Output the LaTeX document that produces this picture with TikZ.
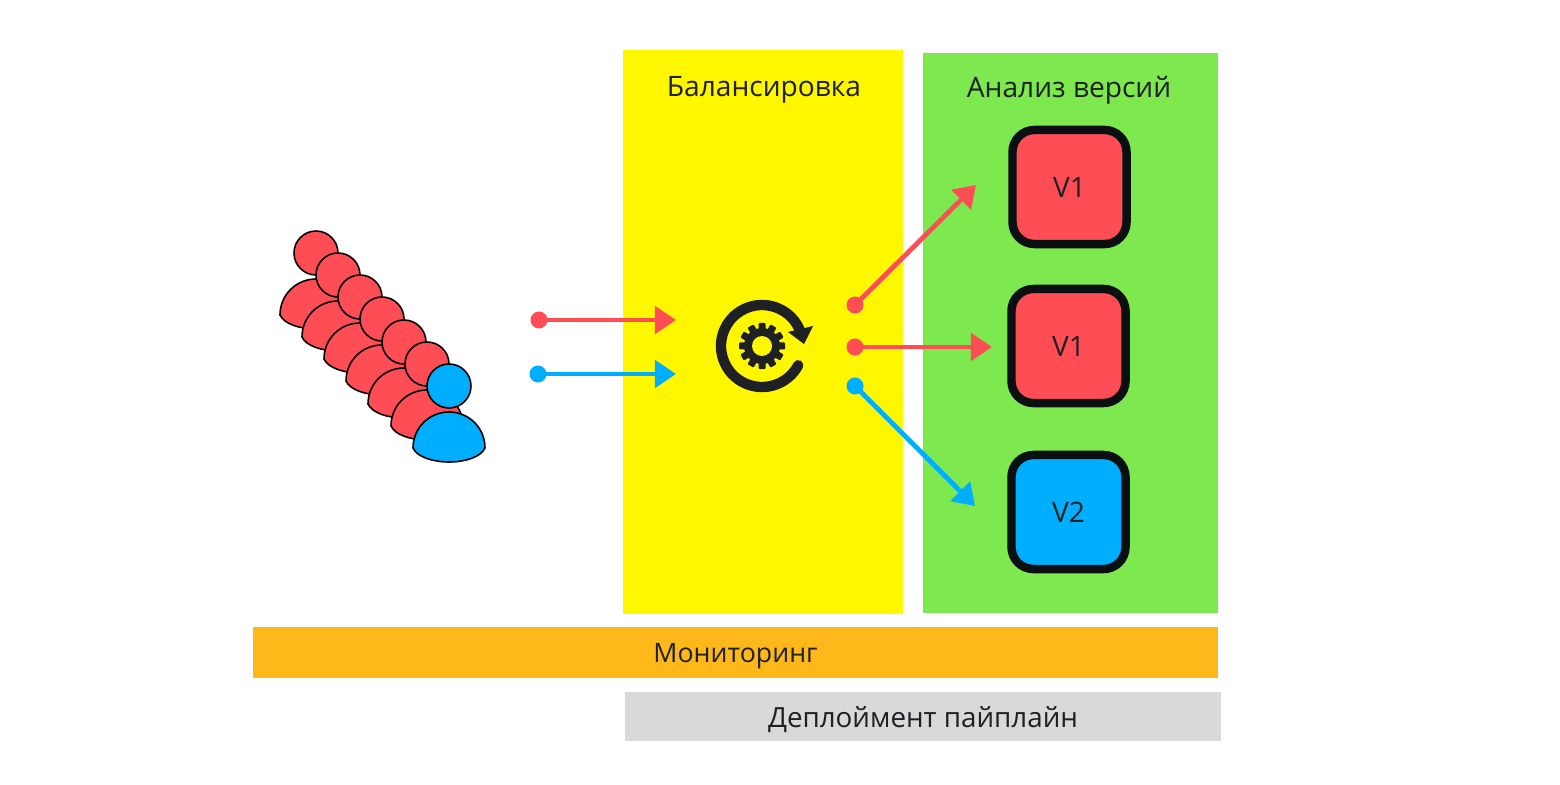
\documentclass[tikz,border=0pt]{standalone}
\usepackage{fontspec}
\setmainfont{Open Sans}
\usetikzlibrary{arrows.meta}
\definecolor{appred}{HTML}{FF4D55}
\definecolor{appblue}{HTML}{00AEFF}
\definecolor{panelyellow}{HTML}{FFF700}
\definecolor{panelgreen}{HTML}{7EE84F}
\definecolor{panelorange}{HTML}{FFB819}
\definecolor{panelgrey}{HTML}{D9D9D9}
\definecolor{inkdark}{HTML}{1E2024}
\definecolor{inkblack}{HTML}{0A0F12}
\tikzset{
  panel/.style={inner sep=0pt},
  caption/.style={inner sep=0pt, text=inkdark},
  version/.style={draw=inkblack, line width=2.4pt, rounded corners=0.22cm,
    minimum size=1.14cm, inner sep=0pt, text=inkdark},
  dot/.style={circle, fill=#1, minimum size=0.17cm, inner sep=0pt},
  flow/.style={draw=#1, line width=1.35pt, -{Triangle[length=0.21cm, width=0.27cm]}}
}
\begin{document}
\begin{tikzpicture}[x=0.01cm, y=-0.01cm, font=\fontsize{8}{10}\selectfont]
\useasboundingbox (0,0) rectangle (1560,785);
% panels
\node[panel, fill=panelyellow, minimum width=2.8cm, minimum height=5.64cm] (balance) at (763,332) {};
\node[panel, fill=panelgreen, minimum width=2.95cm, minimum height=5.6cm] (analysis) at (1070.5,333) {};
\node[panel, fill=panelorange, minimum width=9.65cm, minimum height=0.51cm] (monitoring) at (735.5,652.5) {};
\node[panel, fill=panelgrey, minimum width=5.96cm, minimum height=0.49cm] (pipeline) at (923,716.5) {};
\node[caption] (balancetitle) at (764,89.5) {Балансировка};
\node[caption] (analysistitle) at (1069,90) {Анализ версий};
\node[caption, font=\fontsize{7.6}{10}\selectfont] (monitoringtitle) at (735.5,656) {Мониторинг};
\node[caption, font=\fontsize{7.9}{10}\selectfont] (pipelinetitle) at (923,719.5) {Деплоймент пайплайн};
% users, back to front
\foreach \px/\py/\col in {316/253/appred, 338/275/appred, 360/297/appred, 382/319/appred,
    404/342/appred, 427/364/appred, 449/386/appblue} {
  \begin{scope}[shift={(\px,\py)}]
    \draw[fill=\col, line width=0.45pt] (-36,62) .. controls (-36,42) and (-20,26) .. (0,26)
      .. controls (20,26) and (36,42) .. (36,62)
      .. controls (32,71) and (16,76) .. (0,76)
      .. controls (-16,76) and (-32,71) .. (-36,62) -- cycle;
    \draw[fill=\col, line width=0.45pt] (0,0) circle (22);
  \end{scope}
}
% incoming traffic
\node[dot=appred] (inred) at (539,320) {};
\node[dot=appblue] (inblue) at (538,374) {};
\coordinate (balred) at (676,320);
\coordinate (balblue) at (676,374);
\draw[flow=appred] (inred.center) -- (balred);
\draw[flow=appblue] (inblue.center) -- (balblue);
% balancer icon
\coordinate (gear) at (762,346);
\draw[inkdark, line width=2.95pt, line cap=round] (gear) ++(-20:41) arc (-20:-332:41);
\fill[inkdark] (788,332) -- (813,326) -- (804,344) -- cycle;
\foreach \a in {0,30,...,330}
  \fill[inkdark, rotate around={\a:(gear)}, rounded corners=0.01cm] (758.5,323) rectangle (765.5,333);
\fill[inkdark] (gear) circle (18);
\fill[panelyellow] (gear) circle (10);
% outgoing traffic
\node[dot=appred] (outone) at (855,305) {};
\node[dot=appred] (outtwo) at (855,347) {};
\node[dot=appblue] (outthree) at (855,386) {};
\coordinate (tipone) at (976,185);
\coordinate (tiptwo) at (992,347);
\coordinate (tipthree) at (975,506);
\draw[flow=appred] (outone.center) -- (tipone);
\draw[flow=appred] (outtwo.center) -- (tiptwo);
\draw[flow=appblue] (outthree.center) -- (tipthree);
% versions
\node[version, fill=appred] (vone) at (1069.5,187) {V1};
\node[version, fill=appred] (vtwo) at (1068.5,346) {V1};
\node[version, fill=appblue] (vthree) at (1068.5,512) {V2};
\end{tikzpicture}
\end{document}
